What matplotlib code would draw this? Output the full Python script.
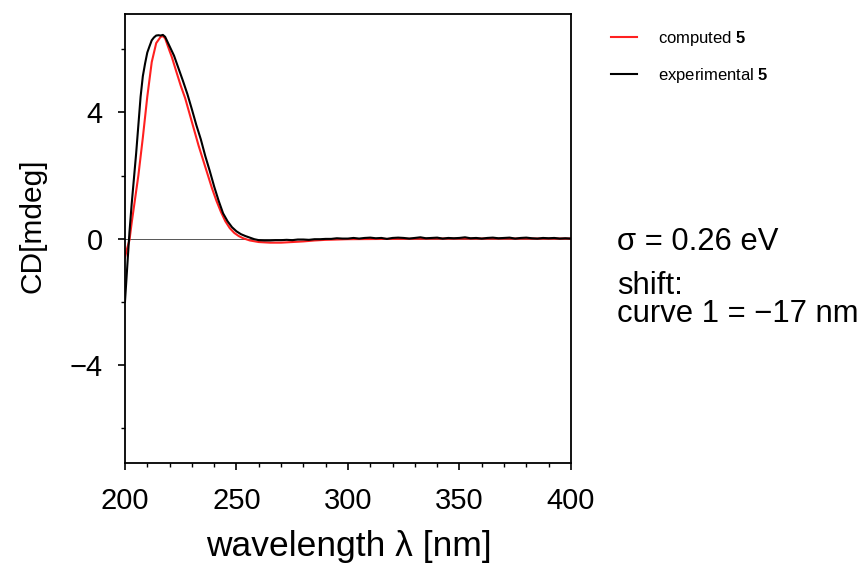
import matplotlib
matplotlib.use('Agg')
import matplotlib.pyplot as plt
import numpy as np

# ===== data =====
wl_exp = [200, 201, 202, 203, 204, 205, 206, 207, 208, 209, 210, 211, 212, 213, 214,
          215, 216, 217, 218, 219, 220, 221, 222, 224, 226, 228, 230, 232, 234, 236, 238,
          240, 242, 244, 246, 248, 250, 252, 254, 256, 258, 260, 262.5, 265, 267.5,
          270, 272.5, 275, 277.5, 280, 282.5, 285, 287.5, 290, 292.5, 295, 297.5,
          300, 302.5, 305, 307.5, 310, 312.5, 315, 317.5, 320, 322.5, 325, 327.5,
          330, 332.5, 335, 337.5, 340, 342.5, 345, 347.5, 350, 352.5, 355, 357.5,
          360, 362.5, 365, 367.5, 370, 372.5, 375, 377.5, 380, 382.5, 385, 387.5,
          390, 392.5, 395, 397.5, 400]
cd_exp = [-2.0, -0.9, 0.2, 1.1, 1.9, 2.7, 3.6, 4.5, 5.15, 5.55, 5.9, 6.1, 6.29, 6.38, 6.44,
          6.45, 6.44, 6.46, 6.4, 6.25, 6.1, 5.95, 5.8, 5.4, 5.0, 4.58, 4.1, 3.6, 3.15, 2.62, 2.15,
          1.65, 1.2, 0.8, 0.55, 0.36, 0.23, 0.14, 0.08, 0.03, -0.02, -0.05, -0.06, -0.06, -0.05,
          -0.05, -0.04, -0.05, -0.03, -0.03, -0.04, -0.02, -0.02, -0.01, -0.01, 0.01, 0.0,
          0.0, 0.02, 0.0, 0.02, 0.03, 0.01, 0.02, -0.01, 0.02, 0.03, 0.02, 0.0,
          0.02, 0.04, 0.01, 0.02, 0.03, 0.0, 0.02, 0.01, 0.02, 0.04, 0.01, 0.02,
          0.0, 0.02, 0.03, 0.01, 0.02, 0.03, 0.0, 0.02, 0.03, 0.01, 0.0, 0.02,
          0.01, 0.02, 0.0, 0.01, 0.0]

wl_calc = [200, 201, 202, 203, 204, 205, 206, 208, 210, 212, 214, 216, 217, 218, 219, 220,
           221, 223, 225, 227, 229, 231, 233, 235, 237, 239, 241, 243, 245, 247, 249, 251,
           253, 256, 260, 265, 270, 275, 280, 285, 290, 300, 320, 340, 400]
cd_calc = [-0.6, -0.3, -0.05, 0.5, 1.0, 1.5, 2.0, 3.2, 4.5, 5.6, 6.2, 6.4, 6.42, 6.35, 6.15, 5.95,
           5.76, 5.3, 4.85, 4.45, 3.95, 3.45, 2.95, 2.5, 2.05, 1.6, 1.2, 0.85, 0.55, 0.33, 0.18, 0.08,
           0.01, -0.06, -0.11, -0.13, -0.13, -0.11, -0.09, -0.06, -0.04, -0.02, -0.01, 0.0, 0.0]

labels = [r'computed $\mathbf{5}$', r'experimental $\mathbf{5}$']
sigma_txt = '\u03c3 = 0.26 eV'
shift_txt = 'shift:\ncurve 1 = \u221217 nm'

# ===== style =====
plt.rcParams['font.family'] = ['Liberation Sans', 'DejaVu Sans']
plt.rcParams['mathtext.fontset'] = 'custom'
plt.rcParams['mathtext.rm'] = 'Liberation Sans'
plt.rcParams['mathtext.bf'] = 'Liberation Sans:bold'

fig = plt.figure(figsize=(8.65, 5.64), dpi=100)
ax = fig.add_axes([0.1445, 0.179, 0.5155, 0.796])

ax.axhline(0, color='#555555', lw=0.7, zorder=1)
ax.plot(wl_calc, cd_calc, color='#ff2020', lw=1.5, label=labels[0], zorder=2)
ax.plot(wl_exp, cd_exp, color='black', lw=1.5, label=labels[1], zorder=3)

ax.set_xlim(200, 400)
ax.set_ylim(-7.12, 7.12)
ax.set_xticks([200, 250, 300, 350, 400])
ax.set_xticks(np.arange(200, 401, 10), minor=True)
ax.set_yticks([-4, 0, 4])
ax.set_yticks([-6, -2, 2, 6], minor=True)
ax.set_yticklabels(['\u22124', '0', '4'])
ax.tick_params(which='major', length=5, width=1.2, labelsize=21, direction='out')
ax.tick_params(which='minor', length=3, width=1.0, direction='out')
ax.tick_params(axis='x', which='major', pad=12)
ax.tick_params(axis='y', which='major', pad=11)
for s in ax.spines.values():
    s.set_linewidth(1.3)

ax.set_xlabel('wavelength \u03bb [nm]', fontsize=25.5, va='top')
ax.xaxis.set_label_coords(0.501, -0.149)
ax.set_ylabel('CD[mdeg]', fontsize=21.5)
ax.yaxis.set_label_coords(-0.177, 0.528)

ax.legend(loc='upper left', bbox_to_anchor=(596 / 865, 0.976), bbox_transform=fig.transFigure,
          frameon=False, fontsize=12, handlelength=1.55, handletextpad=1.25,
          labelspacing=1.1)

fig.text(617 / 865, 1 - 250 / 564, sigma_txt, fontsize=22.3, va='baseline', ha='left')
fig.text(617 / 865, 1 - 322 / 564, shift_txt, fontsize=22.3, va='baseline', ha='left',
         linespacing=0.93)

fig.savefig('out.png', dpi=100)
